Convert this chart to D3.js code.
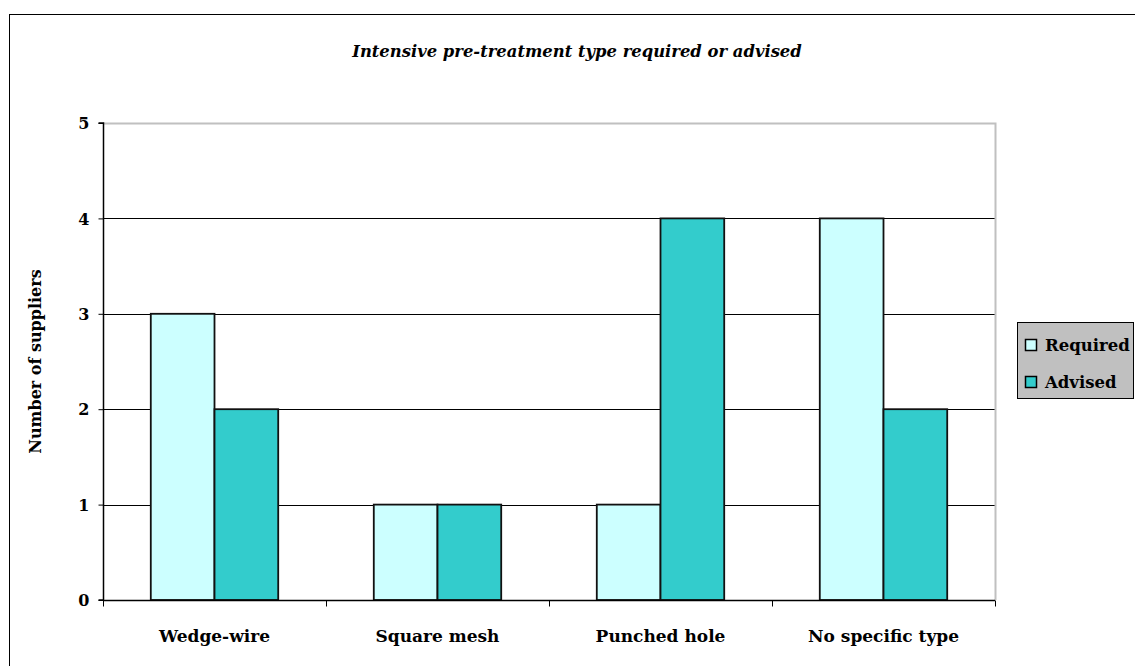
<!DOCTYPE html>
<html>
<head>
<meta charset="utf-8">
<script src="https://cdn.jsdelivr.net/npm/d3@7"></script>
<style>
  html, body { margin: 0; padding: 0; background: #fff; }
  svg { display: block; }
  svg text { font-family: "DejaVu Serif", "Liberation Serif", serif; font-weight: bold; fill: #000; }
</style>
</head>
<body>
<svg id="chart" width="1135" height="666"></svg>
<script>
// Pre-treatment types and supplier counts
const categories = ["Wedge-wire", "Square mesh", "Punched hole", "No specific type"];
const seriesNames = ["Required", "Advised"];
const required = [3, 1, 1, 4];
const advised = [2, 1, 4, 2];
const yTicks = [0, 1, 2, 3, 4, 5];
const colors = ["#CCFFFF", "#33CCCC"];

const svg = d3.select("#chart");

// outer chart frame
svg.append("rect")
  .attr("x", 9.5).attr("y", 14.5)
  .attr("width", 1140).attr("height", 680)
  .attr("fill", "#fff").attr("stroke", "#000").attr("stroke-width", 1);

const plot = { left: 103, top: 123, right: 995, bottom: 600 };

// category bands; bars use a 150% gap between groups
const x0 = d3.scaleBand().domain(categories).range([plot.left, plot.right]);
const barW = x0.bandwidth() / 3.5;
const x1 = d3.scaleBand().domain(seriesNames).range([0.75 * barW, 2.75 * barW]);
const y = d3.scaleLinear().domain([0, 5]).range([plot.bottom, plot.top]);

// horizontal gridlines
svg.append("g").selectAll("line")
  .data(yTicks.filter(t => t > 0 && t < 5))
  .join("line")
  .attr("x1", plot.left).attr("x2", plot.right)
  .attr("y1", d => Math.round(y(d)) + 0.5).attr("y2", d => Math.round(y(d)) + 0.5)
  .attr("stroke", "#000").attr("stroke-width", 1);

// plot area border (top and right in grey)
svg.append("path")
  .attr("d", `M${plot.left},${plot.top + 0.5}H${plot.right + 0.5}V${plot.bottom}`)
  .attr("fill", "none").attr("stroke", "#c0c0c0").attr("stroke-width", 2);

// bars
const data = categories.map((c, i) => ({ cat: c, values: [required[i], advised[i]] }));
const groups = svg.append("g").selectAll("g")
  .data(data).join("g")
  .attr("transform", d => `translate(${x0(d.cat)},0)`);

groups.selectAll("rect")
  .data(d => d.values.map((v, j) => ({ name: seriesNames[j], v, j })))
  .join("rect")
  .attr("x", d => x1(d.name))
  .attr("width", x1.bandwidth())
  .attr("y", d => y(d.v))
  .attr("height", d => y(0) - y(d.v))
  .attr("fill", d => colors[d.j])
  .attr("stroke", "#111").attr("stroke-width", 1.8);

// y axis
const yAxis = d3.axisLeft(y).tickValues(yTicks).tickSize(5).tickPadding(9).tickFormat(d3.format("d"));
const gy = svg.append("g").attr("transform", `translate(${plot.left + 0.5},0)`).call(yAxis);
gy.attr("font-family", null).attr("font-size", null);
gy.select(".domain").attr("stroke", "#000").attr("stroke-width", 1.5).attr("d", `M-5,${plot.top}H0V${plot.bottom}H-5`);
gy.selectAll(".tick line").attr("stroke", "#000");
gy.selectAll("text").attr("font-size", 16).attr("dy", "0.36em");

// x axis with ticks at category boundaries
const gx = svg.append("g").attr("transform", `translate(0,${plot.bottom + 0.5})`);
gx.append("line").attr("x1", plot.left).attr("x2", plot.right).attr("stroke", "#000").attr("stroke-width", 1.5);
const bounds = categories.map(c => x0(c)).concat([plot.right]);
gx.selectAll("line.tick").data(bounds).join("line")
  .attr("class", "tick")
  .attr("x1", d => Math.round(d) + 0.5).attr("x2", d => Math.round(d) + 0.5)
  .attr("y1", 0).attr("y2", 6)
  .attr("stroke", "#000").attr("stroke-width", 1);
gx.selectAll("text").data(categories).join("text")
  .attr("x", d => x0(d) + x0.bandwidth() / 2)
  .attr("y", 41)
  .attr("text-anchor", "middle")
  .attr("font-size", 17)
  .text(d => d);

// title
svg.append("text")
  .attr("x", 577).attr("y", 57)
  .attr("text-anchor", "middle")
  .attr("font-size", 16.4).attr("font-style", "italic")
  .text("Intensive pre-treatment type required or advised");

// y axis title
svg.append("text")
  .attr("transform", `translate(41,${(plot.top + plot.bottom) / 2}) rotate(-90)`)
  .attr("text-anchor", "middle")
  .attr("font-size", 16)
  .text("Number of suppliers");

// legend
const legend = svg.append("g").attr("transform", "translate(1017,322)");
legend.append("rect")
  .attr("x", 0.5).attr("y", 0.5).attr("width", 116).attr("height", 76)
  .attr("fill", "#c0c0c0").attr("stroke", "#000").attr("stroke-width", 1);
const items = legend.selectAll("g.item").data(seriesNames).join("g")
  .attr("class", "item")
  .attr("transform", (d, i) => `translate(0,${23 + i * 37})`);
items.append("rect")
  .attr("x", 8.5).attr("y", -5.5).attr("width", 11).attr("height", 11)
  .attr("fill", (d, i) => colors[i]).attr("stroke", "#000").attr("stroke-width", 1.5);
items.append("text")
  .attr("x", 28).attr("y", 6)
  .attr("font-size", 16.5)
  .text(d => d);
</script>
</body>
</html>
